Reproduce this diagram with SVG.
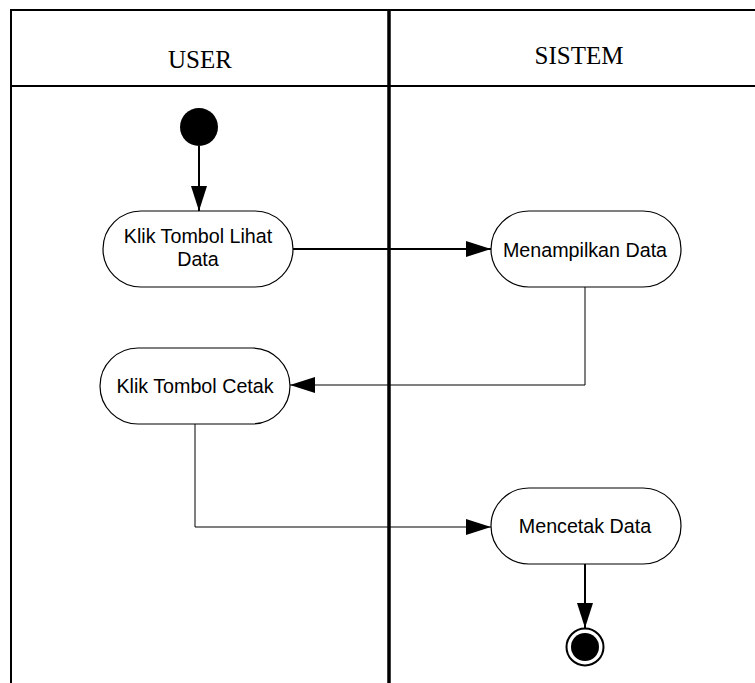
<svg xmlns="http://www.w3.org/2000/svg" width="755" height="683" viewBox="0 0 755 683">
  <style>
    .lane { stroke: #000; stroke-width: 2; fill: none; }
    .mid { stroke: #000; stroke-width: 3.5; fill: none; }
    .hdr { font-family: "Liberation Serif", "Times New Roman", serif; font-size: 25px; fill: #000; text-anchor: middle; }
    .act rect { fill: #fff; stroke: #000; stroke-width: 1.2; }
    .act text { font-family: "Liberation Sans", Arial, sans-serif; font-size: 19.7px; fill: #000; text-anchor: middle; }
    .thick { stroke: #000; stroke-width: 2; fill: none; }
    .thin { stroke: #000; stroke-width: 1; fill: none; }
  </style>
  <defs>
    <marker id="arrow" markerUnits="userSpaceOnUse" markerWidth="25" markerHeight="16" refX="25" refY="8" orient="auto">
      <path d="M0,0 L25,8 L0,16 z" fill="#000"/>
    </marker>
  </defs>
  <rect width="755" height="683" fill="#fff"/>
  <g id="swimlanes">
    <line class="lane" x1="11" y1="10" x2="755" y2="10"/>
    <line class="lane" x1="11" y1="9" x2="11" y2="683"/>
    <line class="lane" x1="11" y1="86" x2="755" y2="86"/>
    <line class="mid" x1="389" y1="9" x2="389" y2="683"/>
    <text class="hdr" x="200" y="68">USER</text>
    <text class="hdr" x="579" y="64">SISTEM</text>
  </g>
  <g id="connectors">
    <line class="thick" x1="199" y1="146" x2="199" y2="211" marker-end="url(#arrow)"/>
    <line class="thick" x1="293" y1="249" x2="491" y2="249" marker-end="url(#arrow)"/>
    <polyline class="thin" points="585,287 585,385 290,385" marker-end="url(#arrow)"/>
    <polyline class="thin" points="195,424 195,527 491,527" marker-end="url(#arrow)"/>
    <line class="thick" x1="585" y1="564" x2="585" y2="628" marker-end="url(#arrow)"/>
  </g>
  <g id="start">
    <circle cx="199" cy="127" r="19" fill="#000"/>
  </g>
  <g id="klik-lihat" class="act">
    <rect x="103" y="211" width="190" height="76" rx="38" ry="38"/>
    <text x="198" y="243">Klik Tombol Lihat</text>
    <text x="198" y="266">Data</text>
  </g>
  <g id="menampilkan" class="act">
    <rect x="491" y="211" width="190" height="76" rx="38" ry="38"/>
    <text x="585" y="257">Menampilkan Data</text>
  </g>
  <g id="klik-cetak" class="act">
    <rect x="100" y="348" width="190" height="76" rx="38" ry="38"/>
    <text x="195" y="393">Klik Tombol Cetak</text>
  </g>
  <g id="mencetak" class="act">
    <rect x="491" y="488" width="190" height="76" rx="38" ry="38"/>
    <text x="585" y="533">Mencetak Data</text>
  </g>
  <g id="end">
    <circle cx="585" cy="647" r="18.5" fill="#fff" stroke="#000" stroke-width="2"/>
    <circle cx="585" cy="647" r="14" fill="#000"/>
  </g>
</svg>
